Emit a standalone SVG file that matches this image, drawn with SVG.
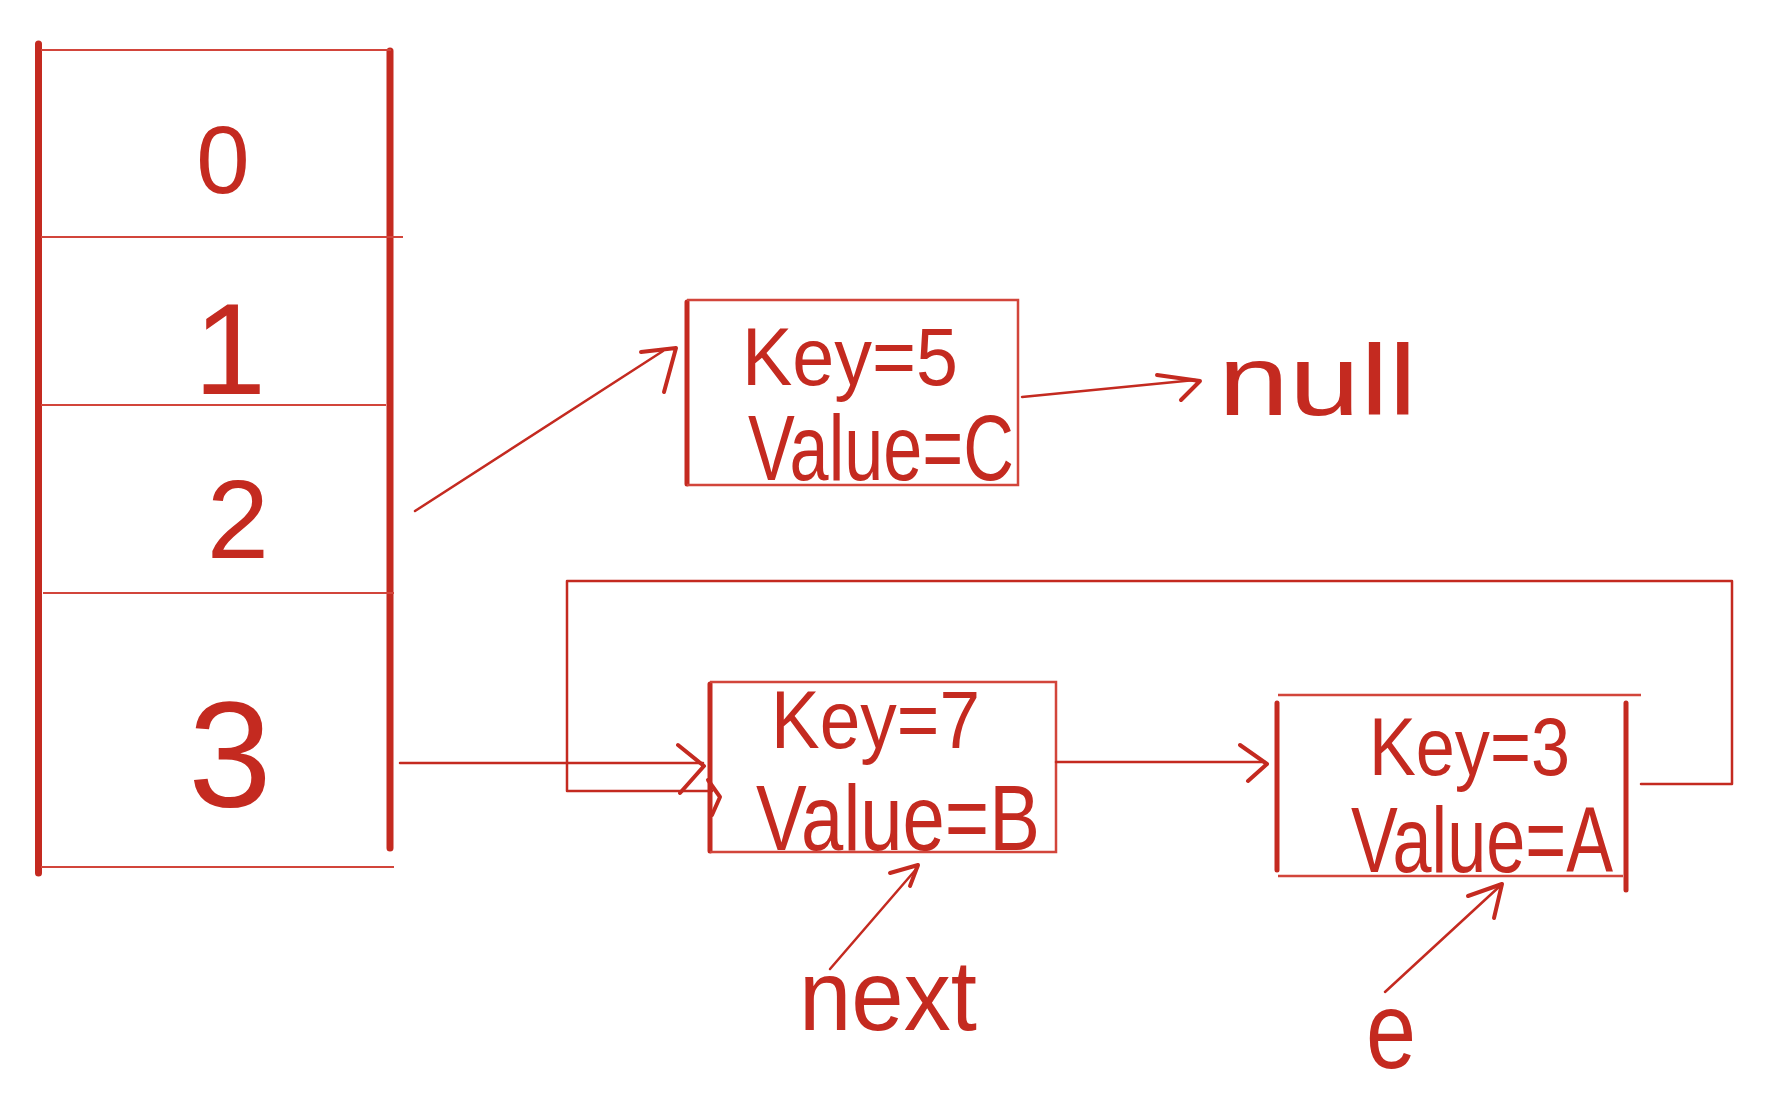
<svg xmlns="http://www.w3.org/2000/svg" width="1777" height="1095" viewBox="0 0 1777 1095">
<style>
.thick{stroke:#c42a20;stroke-width:7;stroke-linecap:round;fill:none}
.thin{stroke:#d2453b;stroke-width:1.8;fill:none}
.med{stroke:#c42a20;stroke-width:2.5;fill:none;stroke-linecap:round;stroke-linejoin:round}
.head{stroke:#c42a20;stroke-width:4;fill:none;stroke-linecap:round;stroke-linejoin:round}
.hw{fill:#c42a20;font-family:"Liberation Sans Narrow","Liberation Sans",sans-serif}
</style>
<rect width="1777" height="1095" fill="#ffffff"/>
<g id="array">
<line class="thick" x1="38.5" y1="44" x2="38.5" y2="873"/>
<line class="thick" x1="390" y1="51" x2="390" y2="848"/>
<line class="thin" x1="41" y1="50" x2="391" y2="50"/>
<line class="thin" x1="41" y1="237" x2="403" y2="237"/>
<line class="thin" x1="41" y1="405" x2="386" y2="405"/>
<line class="thin" x1="43" y1="593" x2="394" y2="593"/>
<line class="thin" x1="41" y1="867" x2="394" y2="867"/>
<text class="hw" x="223" y="193" font-size="96" text-anchor="middle">0</text>
<text class="hw" x="230" y="394" font-size="130" text-anchor="middle">1</text>
<text class="hw" x="238" y="558" font-size="112" text-anchor="middle">2</text>
<text class="hw" x="230" y="807" font-size="150" text-anchor="middle">3</text>
</g>
<g id="nodeC">
<line class="thick" x1="687" y1="302" x2="687" y2="484" style="stroke-width:5"/>
<path class="thin" d="M687 300 H1018 V485 H687" style="stroke-width:2.5"/>
<text class="hw" x="742" y="385" font-size="82" textLength="216" lengthAdjust="spacingAndGlyphs">Key=5</text>
<text class="hw" x="748" y="480" font-size="92" textLength="266" lengthAdjust="spacingAndGlyphs">Value=C</text>
</g>
<g id="null">
<text class="hw" x="1218" y="415" font-size="100" textLength="199" lengthAdjust="spacingAndGlyphs">null</text>
</g>
<g id="nodeB">
<line class="thick" x1="710" y1="684" x2="710" y2="851" style="stroke-width:5"/>
<path class="thin" d="M710 682 H1056 V852 H710" style="stroke-width:2.5"/>
<text class="hw" x="771" y="748" font-size="82" textLength="209" lengthAdjust="spacingAndGlyphs">Key=7</text>
<text class="hw" x="756" y="850" font-size="92" textLength="284" lengthAdjust="spacingAndGlyphs">Value=B</text>
</g>
<g id="nodeA">
<line class="thin" x1="1278" y1="695" x2="1641" y2="695" style="stroke-width:2.5"/>
<line class="thin" x1="1278" y1="876" x2="1623" y2="876" style="stroke-width:2.5"/>
<line class="thick" x1="1277" y1="703" x2="1277" y2="870" style="stroke-width:5"/>
<line class="thick" x1="1626" y1="703" x2="1626" y2="890" style="stroke-width:5"/>
<text class="hw" x="1369" y="775" font-size="82" textLength="201" lengthAdjust="spacingAndGlyphs">Key=3</text>
<text class="hw" x="1351" y="872" font-size="92" textLength="262" lengthAdjust="spacingAndGlyphs">Value=A</text>
</g>
<g id="next">
<text class="hw" x="799" y="1030" font-size="100" textLength="178" lengthAdjust="spacingAndGlyphs">next</text>
</g>
<g id="e">
<text class="hw" x="1366" y="1068" font-size="110" textLength="50" lengthAdjust="spacingAndGlyphs">e</text>
</g>
<g id="connectors">
<line class="med" x1="415" y1="511" x2="663" y2="351"/>
<path class="head" d="M641 352 L676 348 L664 392"/>
<line class="med" x1="1022" y1="397" x2="1195" y2="380"/>
<path class="head" d="M1157 375 L1200 381 L1181 400"/>
<line class="med" x1="400" y1="763" x2="703" y2="763"/>
<path class="head" d="M678 745 L704 766 L680 793"/>
<path class="med" d="M712 791 H567 V581 H1732 V784 H1641"/>
<path class="head" d="M708 780 L720 797 L712 815"/>
<line class="med" x1="1056" y1="762" x2="1265" y2="762"/>
<path class="head" d="M1240 745 L1267 764 L1248 781"/>
<line class="med" x1="830" y1="969" x2="918" y2="867"/>
<path class="head" d="M890 873 L918 865 L910 886"/>
<line class="med" x1="1385" y1="992" x2="1500" y2="886"/>
<path class="head" d="M1468 896 L1502 884 L1494 918"/>
</g>
</svg>
